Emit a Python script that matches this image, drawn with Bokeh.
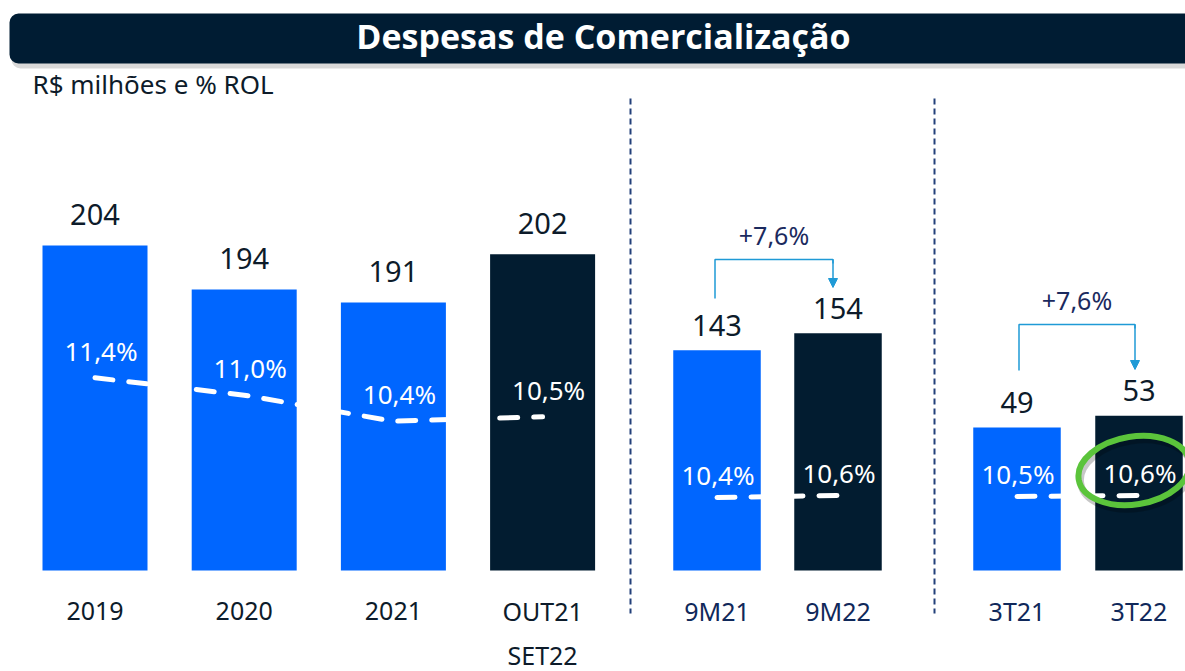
from bokeh.plotting import figure
from bokeh.models import Range1d, BoxAnnotation, Arrow, NormalHead
from bokeh.core.properties import value
from bokeh.embed import file_html
from bokeh.resources import INLINE

# ---------------- data ----------------
TITLE = "Despesas de Comercialização"
SUBTITLE = "R$ milhões e % ROL"

anual_cats = ["2019", "2020", "2021", "OUT21\nSET22"]
anual_vals = [204, 194, 191, 202]
anual_pct = [11.4, 11.0, 10.4, 10.5]

nove_cats = ["9M21", "9M22"]
nove_vals = [143, 154]
nove_pct = [10.4, 10.6]

tri_cats = ["3T21", "3T22"]
tri_vals = [49, 53]
tri_pct = [10.5, 10.6]

growth_labels = ["+7,6%", "+7,6%"]

# ---------------- layout / style ----------------
W, H = 1185, 671
LEFT, TOP = 0, 0
RIGHT, BOTTOM = LEFT + W, TOP + H
BASE = 570  # bar baseline (px from top)

BLUE = "#0066FF"
NAVY = "#021C30"
INK = "#0D1B2A"
INK2 = "#10285A"
ARROW = "#1F9AD6"
GREEN = "#5BC43B"
FONT = value("Noto Sans")


def adj(fs):
    """Upward correction so the glyph baseline lands on the requested y."""
    return -round(0.38 * fs)


def scale_range(k, v_base):
    """Range with k px per unit and v_base sitting on the baseline."""
    return Range1d(start=v_base - (BOTTOM - BASE) / k, end=v_base + (BASE - TOP) / k)


def fmt_pct(v):
    return f"{v:.1f}".replace(".", ",") + "%"


p = figure(width=W, height=H, x_range=Range1d(LEFT, RIGHT), y_range=Range1d(BOTTOM, TOP),
           x_axis_type=None, y_axis_type=None, toolbar_location=None,
           output_backend="svg", min_border=0, outline_line_color=None,
           background_fill_color="white", border_fill_color="white")

p.extra_y_ranges = {
    "s1": scale_range(4.385, 129.9),
    "s2": scale_range(1.54, 0),
    "s3": scale_range(2.92, 0),
    "p1": scale_range(43.4, 6.96),
    "p2": scale_range(10.0, 3.1),
}

# title bar
p.add_layout(BoxAnnotation(left=11, right=RIGHT + 20, top=16, bottom=68, fill_color="#000000",
                           fill_alpha=0.15, line_color=None, border_radius=9, level="underlay"))
p.add_layout(BoxAnnotation(left=9, right=RIGHT + 20, top=13, bottom=63, fill_color="#001C33",
                           fill_alpha=1.0, line_color=None, border_radius=9, level="underlay"))
p.text(x=[603], y=[48], y_offset=adj(34), text=[TITLE], text_align="center",
       text_baseline="alphabetic", text_font=value("Open Sans"), text_font_style="bold",
       text_font_size="34px", text_color="white")
p.text(x=[32], y=[93], y_offset=adj(26), text=[SUBTITLE], text_align="left",
       text_baseline="alphabetic", text_font=FONT, text_font_size="26px", text_color=INK)

# separators
p.segment(x0=[630, 934], y0=[98, 98], x1=[630, 934], y1=[613, 613],
          line_color="#23407A", line_width=2, line_dash="6 4")

sections = [
    dict(cats=anual_cats, vals=anual_vals, pct=anual_pct, x0=94.5, step=149.2, width=105,
         yr="s1", vb=129.9, pr="p1", gap=20, pdx=6, pdy=17, ink=INK),
    dict(cats=nove_cats, vals=nove_vals, pct=nove_pct, x0=716.5, step=121, width=87.5,
         yr="s2", vb=0, pr="p2", gap=14, pdx=1, pdy=13, ink=INK2),
    dict(cats=tri_cats, vals=tri_vals, pct=tri_pct, x0=1016.5, step=122, width=87.5,
         yr="s3", vb=0, pr="p2", gap=14, pdx=1, pdy=13, ink=INK2),
]

centers = []
for s in sections:
    n = len(s["cats"])
    xs = [s["x0"] + i * s["step"] for i in range(n)]
    centers.append(xs)
    colors = [BLUE] * (n - 1) + [NAVY]
    p.vbar(x=xs, top=s["vals"], bottom=s["vb"], width=s["width"], fill_color=colors,
           line_color=None, y_range_name=s["yr"])
    p.text(x=xs, y=s["vals"], text=[str(v) for v in s["vals"]], y_range_name=s["yr"],
           y_offset=-s["gap"] + adj(29), text_align="center", text_baseline="alphabetic",
           text_font=FONT, text_font_size="29px", text_color=INK)
    p.line(x=xs, y=s["pct"], y_range_name=s["pr"], line_color="white", line_width=5,
           line_dash="18 16", line_cap="round")
    p.text(x=xs, y=s["pct"], text=[fmt_pct(v) for v in s["pct"]], y_range_name=s["pr"],
           x_offset=s["pdx"], y_offset=-s["pdy"] + adj(26), text_align="center",
           text_baseline="alphabetic", text_font=FONT, text_font_size="26px",
           text_color="white")
    first = [c.split("\n")[0] for c in s["cats"]]
    p.text(x=xs, y=[620] * n, y_offset=adj(25), text=first, text_align="center",
           text_baseline="alphabetic", text_font=FONT, text_font_size="25px",
           text_color=s["ink"])
    second_x = [x for x, c in zip(xs, s["cats"]) if "\n" in c]
    second_t = [c.split("\n")[1] for c in s["cats"] if "\n" in c]
    if second_t:
        p.text(x=second_x, y=[664] * len(second_t), y_offset=adj(25), text=second_t,
               text_align="center", text_baseline="alphabetic", text_font=FONT,
               text_font_size="25px", text_color=s["ink"])

# growth brackets
brackets = [dict(top=259, start=298, tip=287, dl=-2, dr=-5),
            dict(top=324, start=370, tip=369, dl=2, dr=-4)]
for xs, b, lab in zip(centers[1:], brackets, growth_labels):
    xl, xr = xs[0] + b["dl"], xs[1] + b["dr"]
    p.line(x=[xl, xl, xr, xr], y=[b["start"], b["top"], b["top"], b["top"] + 4],
           line_color=ARROW, line_width=1.5)
    p.add_layout(Arrow(x_start=xr, y_start=b["top"], x_end=xr, y_end=b["tip"],
                       line_color=ARROW, line_width=1.5,
                       end=NormalHead(size=9, fill_color=ARROW, line_color=ARROW)))
    p.text(x=[(xl + xr) / 2], y=[b["top"] - 15], y_offset=adj(25), text=[lab],
           text_align="center", text_baseline="alphabetic", text_font=FONT,
           text_font_size="25px", text_color="#1B2A5E")

# highlight ring around last 3T percentage
hx, hy = centers[2][-1] - 5, 470
p.ellipse(x=[hx + 2], y=[hy + 4], width=112, height=68, angle=0.16, fill_color=None,
          line_color="#000000", line_alpha=0.22, line_width=7)
p.ellipse(x=[hx], y=[hy], width=112, height=68, angle=0.16, fill_color=None,
          line_color=GREEN, line_width=6)

open("out.html", "w").write(file_html(p, INLINE))
